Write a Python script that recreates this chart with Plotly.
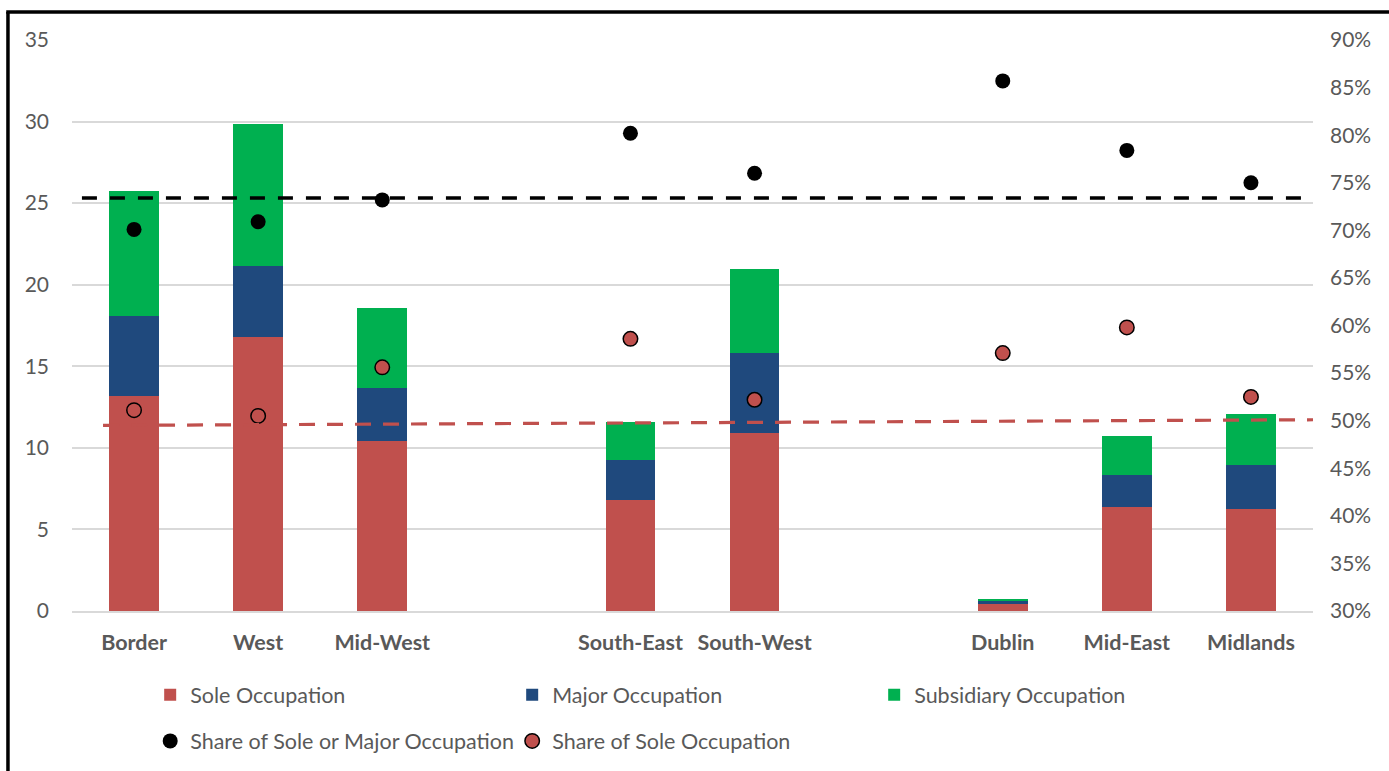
import plotly.graph_objects as go

# ---------------- data ----------------
categories = ["Border", "West", "Mid-West", " ", "South-East", "South-West", "  ",
              "Dublin", "Mid-East", "Midlands"]
sole = [13.2, 16.8, 10.4, None, 6.8, 10.9, None, 0.43, 6.4, 6.25]
major = [4.9, 4.35, 3.25, None, 2.45, 4.9, None, 0.17, 1.95, 2.7]
subsidiary = [7.65, 8.7, 4.9, None, 2.35, 5.15, None, 0.14, 2.35, 3.15]
share_sole_or_major = [70.1, 70.9, 73.2, None, 80.2, 76.0, None, 85.7, 78.4, 75.0]
share_sole = [51.1, 50.5, 55.6, None, 58.6, 52.2, None, 57.1, 59.8, 52.5]
# dashed reference lines (start/end values, % axis)
avg_sole_or_major_line = [73.4, 73.4]
avg_sole_line = [49.5, 50.1]
line_x_black = [-0.42, 9.54]
line_x_red = [-0.25, 9.56]
left_ticks = [0, 5, 10, 15, 20, 25, 30, 35]
right_ticks = list(range(30, 95, 5))
right_tick_labels = [f"{v}%" for v in right_ticks]

RED = "#C0504D"
BLUE = "#1F497D"
GREEN = "#00B050"
TXT = "#595959"
FONT = "Lato"

fig = go.Figure()
fig.add_trace(go.Bar(x=categories, y=sole, name="Sole Occupation",
                     marker=dict(color=RED, line=dict(width=0)), legend="legend"))
fig.add_trace(go.Bar(x=categories, y=major, name="Major Occupation",
                     marker=dict(color=BLUE, line=dict(width=0)), legend="legend"))
fig.add_trace(go.Bar(x=categories, y=subsidiary, name="Subsidiary Occupation",
                     marker=dict(color=GREEN, line=dict(width=0)), legend="legend"))

fig.add_trace(go.Scatter(x=categories, y=share_sole_or_major, yaxis="y2", mode="markers",
                         name="Share of Sole or Major Occupation",
                         marker=dict(color="black", size=15), legend="legend2"))
fig.add_trace(go.Scatter(x=categories, y=share_sole, yaxis="y2", mode="markers",
                         name="Share of Sole Occupation",
                         marker=dict(color=RED, size=14.5, line=dict(color="black", width=1.5)),
                         legend="legend2"))

shapes = [
    dict(type="line", xref="x", yref="y2", x0=line_x_black[0], x1=line_x_black[1],
         y0=avg_sole_or_major_line[0], y1=avg_sole_or_major_line[1],
         line=dict(color="black", width=3.5, dash="15px,13px"), layer="above"),
    dict(type="line", xref="x", yref="y2", x0=line_x_red[0], x1=line_x_red[1],
         y0=avg_sole_line[0], y1=avg_sole_line[1],
         line=dict(color=RED, width=3.2, dash="16px,12px"), layer="above"),
    # outer frame (left and top edges)
    dict(type="line", xref="paper", yref="paper", x0=-0.0516, x1=-0.0516, y0=1.049, y1=-0.29,
         line=dict(color="black", width=3.5)),
    dict(type="line", xref="paper", yref="paper", x0=-0.053, x1=1.07, y0=1.049, y1=1.049,
         line=dict(color="black", width=3.5)),
]

fig.update_layout(
    width=1389, height=771,
    margin=dict(l=72, r=76, t=40, b=160, autoexpand=False),
    barmode="stack", bargap=0.6,
    plot_bgcolor="white", paper_bgcolor="white",
    font=dict(family=FONT, size=21, color=TXT),
    shapes=shapes,
    xaxis=dict(type="category", categoryorder="array", categoryarray=categories,
               tickfont=dict(family=FONT, size=21.5, color=TXT, weight="bold"),
               showgrid=False, showline=True, linecolor="#D9D9D9", linewidth=1.5,
               ticks="", ticklabelstandoff=11, range=[-0.5, 9.5], automargin=False),
    yaxis=dict(range=[0, 35], tickvals=left_ticks, showgrid=True, gridcolor="#D9D9D9",
               gridwidth=1.5, zeroline=False, showline=False, ticks="", automargin=False,
               ticklabelstandoff=22, tickfont=dict(family=FONT, size=21, color=TXT)),
    yaxis2=dict(range=[30, 90], tickvals=right_ticks, ticktext=right_tick_labels,
                overlaying="y", side="right", showgrid=False, zeroline=False,
                showline=False, ticks="", ticklabelstandoff=16, automargin=False,
                tickfont=dict(family=FONT, size=21, color=TXT)),
    legend=dict(orientation="h", x=0.063, xanchor="left", y=-0.1465, yanchor="middle",
                entrywidth=317, font=dict(family=FONT, size=21.5, color=TXT),
                bgcolor="rgba(0,0,0,0)", traceorder="normal"),
    legend2=dict(orientation="h", x=0.063, xanchor="left", y=-0.2275, yanchor="middle",
                 entrywidth=317, font=dict(family=FONT, size=21.5, color=TXT),
                 bgcolor="rgba(0,0,0,0)", traceorder="normal"),
)

fig.write_html("out.html")
